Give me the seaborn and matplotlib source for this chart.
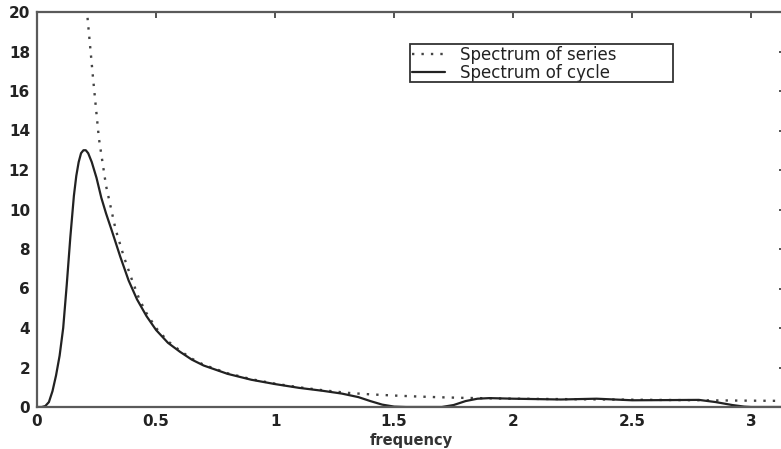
import matplotlib
matplotlib.use("Agg")
import matplotlib.pyplot as plt
from matplotlib.patches import Rectangle
import seaborn as sns
import numpy as np
import pandas as pd

# values
cycle_freq = [0.00, 0.02, 0.035, 0.05, 0.065, 0.08, 0.095, 0.11, 0.125, 0.14,
              0.155, 0.165, 0.175, 0.185, 0.195, 0.205, 0.215, 0.23, 0.25, 0.27,
              0.29, 0.315, 0.35, 0.385, 0.42, 0.46, 0.50, 0.55, 0.60, 0.65,
              0.70, 0.80, 0.90, 1.00, 1.10, 1.20, 1.28, 1.35, 1.40, 1.45,
              1.50, 1.55, 1.70, 1.75, 1.80, 1.85, 1.90, 2.00, 2.20, 2.35,
              2.50, 2.65, 2.78, 2.85, 2.92, 2.97, 3.00, 3.1416]
cycle_power = [0.0, 0.0, 0.05, 0.25, 0.8, 1.6, 2.6, 4.0, 6.2, 8.6,
               10.7, 11.7, 12.4, 12.85, 13.0, 13.0, 12.85, 12.4, 11.6, 10.6,
               9.8, 8.9, 7.6, 6.4, 5.45, 4.6, 3.9, 3.25, 2.8, 2.4,
               2.1, 1.68, 1.38, 1.16, 0.97, 0.82, 0.68, 0.5, 0.3, 0.12,
               0.02, 0.0, 0.0, 0.1, 0.3, 0.42, 0.45, 0.42, 0.38, 0.42,
               0.34, 0.35, 0.36, 0.25, 0.1, 0.02, 0.0, 0.0]

series_freq = [0.18, 0.20, 0.21, 0.235, 0.26, 0.29, 0.33, 0.365, 0.40, 0.43,
               0.46, 0.50, 0.55, 0.60, 0.65, 0.70, 0.80, 0.90, 1.00, 1.10,
               1.20, 1.30, 1.40, 1.50, 1.60, 1.70, 1.80, 1.90, 2.00, 2.20,
               2.40, 2.60, 2.80, 3.00, 3.1416]
series_power = [28.0, 22.5, 20.0, 16.7, 13.6, 11.2, 9.0, 7.6, 6.4, 5.45,
                4.75, 4.0, 3.33, 2.86, 2.45, 2.14, 1.71, 1.41, 1.18, 1.0,
                0.85, 0.72, 0.64, 0.58, 0.53, 0.49, 0.46, 0.44, 0.42, 0.4,
                0.38, 0.36, 0.34, 0.32, 0.31]

x_ticks = [0, 0.5, 1, 1.5, 2, 2.5, 3]
x_tick_labels = ["0", "0.5", "1", "1.5", "2", "2.5", "3"]
y_ticks = [0, 2, 4, 6, 8, 10, 12, 14, 16, 18, 20]

sns.set_style("white")
plt.rcParams["font.family"] = ["DejaVu Sans"]

W, H = 781, 449
fig = plt.figure(figsize=(W / 100, H / 100), dpi=100)
# plot area: x=0 at 37px, y=0 at 407px, y=20 at 12px, x=pi beyond the right edge
ax = fig.add_axes([37 / W, (H - 407) / H, 748 / W, 395 / H])

df_series = pd.DataFrame({"frequency": series_freq, "power": series_power})
df_cycle = pd.DataFrame({"frequency": cycle_freq, "power": cycle_power})

sns.lineplot(data=df_series, x="frequency", y="power", ax=ax, color="#444444",
             linestyle=(0, (1, 3)), linewidth=1.7, label="Spectrum of series")
sns.lineplot(data=df_cycle, x="frequency", y="power", ax=ax, color="#222222",
             linewidth=1.6, label="Spectrum of cycle")

ax.set_xlim(0, np.pi)
ax.set_ylim(0, 20)
ax.set_xticks(x_ticks)
ax.set_xticklabels(x_tick_labels)
ax.set_yticks(y_ticks)
ax.set_xlabel("frequency", fontsize=10.5, fontweight="bold", color="#333333", labelpad=3)
ax.set_ylabel("")

for s in ax.spines.values():
    s.set_color("#5a5a5a")
    s.set_linewidth(1.6)
ax.tick_params(direction="in", length=4, width=1.3, color="#444444",
               top=True, right=True, labelsize=11, labelcolor="#222222", pad=5)
for lab in ax.get_xticklabels() + ax.get_yticklabels():
    lab.set_fontweight("bold")

# legend entries without frame, box drawn separately (box is wider than the text)
leg = ax.legend(loc="upper left", bbox_to_anchor=(412 / W, 1 - 46 / H),
                bbox_transform=fig.transFigure, frameon=False,
                prop={"size": 12}, handlelength=2.0, handletextpad=0.9,
                borderpad=0.0, labelspacing=0.0, borderaxespad=0)
for t in leg.get_texts():
    t.set_color("#222222")

box = Rectangle((410 / W, 1 - 82 / H), 263 / W, 38 / H, transform=fig.transFigure,
                fill=False, edgecolor="#333333", linewidth=1.3)
fig.patches.append(box)

fig.savefig("out.png", dpi=100)
